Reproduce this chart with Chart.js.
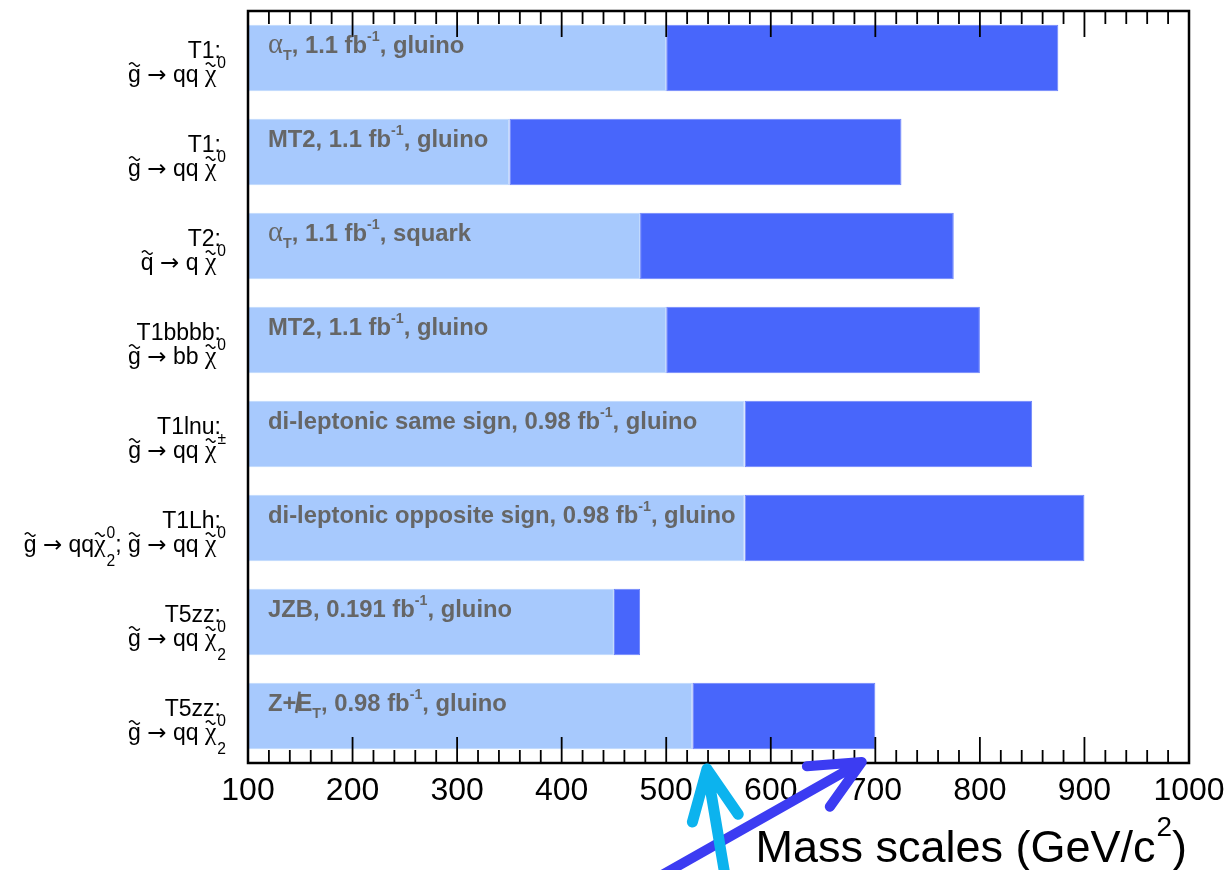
<!DOCTYPE html>
<html>
<head>
<meta charset="utf-8">
<script src="https://cdn.jsdelivr.net/npm/chart.js@4.4.1/dist/chart.umd.min.js"></script>
<style>
  html, body { margin: 0; padding: 0; background: #fff; }
  canvas { display: block; }
</style>
</head>
<body>
<canvas id="c" width="1229" height="870"></canvas>
<script>
// Simplified models, one row each (top to bottom)
const models = ['T1', 'T1', 'T2', 'T1bbbb', 'T1lnu', 'T1Lh', 'T5zz', 'T5zz'];

// Decay chains (mini markup: ~X tilde, ^{..} superscript, _{..} subscript)
const decays = [
  '~g → qq ~χ^{0}',
  '~g → qq ~χ^{0}',
  '~q → q ~χ^{0}',
  '~g → bb ~χ^{0}',
  '~g → qq ~χ^{±}',
  '~g → qq~χ_{2}^{0}; ~g → qq ~χ^{0}',
  '~g → qq ~χ_{2}^{0}',
  '~g → qq ~χ_{2}^{0}'
];

// Analysis, luminosity and particle written on each bar
const analyses = [
  'α_{T}, 1.1 fb^{-1}, gluino',
  'MT2, 1.1 fb^{-1}, gluino',
  'α_{T}, 1.1 fb^{-1}, squark',
  'MT2, 1.1 fb^{-1}, gluino',
  'di-leptonic same sign, 0.98 fb^{-1}, gluino',
  'di-leptonic opposite sign, 0.98 fb^{-1}, gluino',
  'JZB, 0.191 fb^{-1}, gluino',
  'Z+#slash{E}_{T}, 0.98 fb^{-1}, gluino'
];

// Mass reach in GeV/c^2: light segment ends, dark segment ends
const lightEnd = [500, 350, 475, 500, 575, 575, 450, 525];
const darkEnd  = [875, 725, 775, 800, 850, 900, 475, 700];

// Axis
const xTicks = [100, 200, 300, 400, 500, 600, 700, 800, 900, 1000];
const xMinorStep = 20;
const axisTitle = 'Mass scales (GeV/c^{2})';

// Pointer arrows below the axis: tip value on the mass axis
const arrowTips = [687, 539];

const SANS = '"Liberation Sans", Arial, Helvetica, sans-serif';
const SERIF = '"Liberation Serif", "DejaVu Serif", serif';
const SYMB = '"DejaVu Sans", sans-serif';

// ---------- small rich-text renderer ----------
const isGreek = c => /[\u0370-\u03ff]/.test(c);
const isSymbol = c => c === '→';

function parseRich(s) {
  const out = [];
  let i = 0, buf = '';
  const flush = () => { if (buf) { out.push({ t: buf }); buf = ''; } };
  const group = k => { const e = s.indexOf('}', k); return [s.slice(k, e), e + 1]; };
  while (i < s.length) {
    const c = s[i];
    if (c === '~') {
      flush(); out.push({ t: s[i + 1], tilde: true }); i += 2;
    } else if ((c === '^' || c === '_') && s[i + 1] === '{') {
      flush();
      const [g, n] = group(i + 2);
      out.push({ t: g, script: c === '^' ? 'sup' : 'sub' });
      i = n;
    } else if (s.startsWith('#slash{', i)) {
      flush();
      const [g, n] = group(i + 7);
      out.push({ t: g, slash: true });
      i = n;
    } else if (isGreek(c) || isSymbol(c)) {
      flush(); out.push({ t: c }); i++;
    } else {
      buf += c; i++;
    }
  }
  flush();
  return out;
}

function layoutRich(ctx, items, st) {
  let x = 0;
  const parts = [];
  const fontFor = (scale, kind) => {
    const fam = kind === 'greek' ? SERIF : kind === 'symbol' ? SYMB : SANS;
    const w = kind ? 'normal' : st.weight;
    return `${w} ${(st.size * scale).toFixed(2)}px ${fam}`;
  };
  for (let k = 0; k < items.length; k++) {
    const it = items[k];
    if (it.script) {
      const f = fontFor(st.scriptScale, null);
      ctx.font = f;
      const w = ctx.measureText(it.t).width;
      const dy = (it.script === 'sup' ? st.supDy : st.subDy) * st.size;
      parts.push({ t: it.t, font: f, x: x + st.scriptGap, dy });
      const nx = items[k + 1];
      if (it.script === 'sub' && nx && nx.script === 'sup') {
        const w2 = ctx.measureText(nx.t).width;
        parts.push({ t: nx.t, font: f, x: x + st.scriptGap, dy: st.supDy * st.size });
        x += Math.max(w, w2) + st.scriptGap;
        k++;
      } else {
        x += w + st.scriptGap;
      }
      continue;
    }
    const kind = isGreek(it.t) ? 'greek' : isSymbol(it.t) ? 'symbol' : null;
    const scale = kind === 'greek' ? st.greekScale : kind === 'symbol' ? st.symbolScale : 1;
    const f = fontFor(scale, kind);
    ctx.font = f;
    const w = ctx.measureText(it.t).width;
    parts.push({ t: it.t, font: f, x, dy: 0, w, tilde: it.tilde, slash: it.slash });
    x += w;
  }
  return { width: x, parts };
}

function drawRich(ctx, str, x, y, st, align) {
  const lay = layoutRich(ctx, parseRich(str), st);
  const x0 = align === 'right' ? x - lay.width : x;
  ctx.save();
  ctx.fillStyle = st.color;
  ctx.strokeStyle = st.color;
  ctx.textAlign = 'left';
  ctx.textBaseline = 'alphabetic';
  for (const p of lay.parts) {
    ctx.font = p.font;
    const px = x0 + p.x;
    ctx.fillText(p.t, px, y + p.dy);
    if (p.tilde) {
      const tx0 = px + p.w * 0.08, L = p.w * 0.84;
      const ty = y - st.size * 0.76, amp = st.size * 0.075;
      ctx.lineWidth = st.size * 0.065;
      ctx.beginPath();
      for (let s = 0; s <= 20; s++) {
        const t = s / 20;
        const yy = ty - amp * Math.sin(2 * Math.PI * t);
        if (s === 0) ctx.moveTo(tx0 + L * t, yy); else ctx.lineTo(tx0 + L * t, yy);
      }
      ctx.stroke();
    }
    if (p.slash) {
      ctx.lineWidth = st.size * 0.11;
      ctx.beginPath();
      ctx.moveTo(px - p.w * 0.02, y + st.size * 0.08);
      ctx.lineTo(px + p.w * 0.2, y - st.size * 0.82);
      ctx.stroke();
    }
  }
  ctx.restore();
}

const yLabelStyle = { size: 23, weight: 'normal', color: '#000', greekScale: 1.12, symbolScale: 1.0,
  scriptScale: 0.68, supDy: -0.62, subDy: 0.6, scriptGap: 1 };
const barLabelStyle = { size: 23.8, weight: 'bold', color: '#666666', greekScale: 1.2, symbolScale: 1,
  scriptScale: 0.6, supDy: -0.5, subDy: 0.3, scriptGap: 0 };
const titleStyle = { size: 45, weight: 'normal', color: '#000', greekScale: 1, symbolScale: 1,
  scriptScale: 0.62, supDy: -0.58, subDy: 0.3, scriptGap: 1 };

// ---------- frame, inward ticks, annotations ----------
const decorations = {
  id: 'decorations',
  beforeDraw(chart) {
    const { ctx, width, height } = chart;
    ctx.save();
    ctx.fillStyle = '#fff';
    ctx.fillRect(0, 0, width, height);
    ctx.restore();
  },
  afterDatasetsDraw(chart) {
    const { ctx, chartArea: a, scales: { x } } = chart;
    ctx.save();
    ctx.strokeStyle = '#000';
    ctx.lineWidth = 1.8;
    ctx.beginPath();
    for (let v = x.min; v <= x.max; v += xMinorStep) {
      const px = x.getPixelForValue(v);
      const L = xTicks.includes(v) ? 26 : 13;
      ctx.moveTo(px, a.top); ctx.lineTo(px, a.top + L);
      ctx.moveTo(px, a.bottom); ctx.lineTo(px, a.bottom - L);
    }
    ctx.stroke();
    ctx.lineWidth = 2.5;
    ctx.strokeRect(a.left, a.top, a.right - a.left, a.bottom - a.top);
    ctx.restore();

    const meta = chart.getDatasetMeta(0);
    meta.data.forEach((el, i) => {
      const top = el.y - el.height / 2;
      drawRich(ctx, analyses[i], a.left + 20, top + 28.5, barLabelStyle, 'left');
    });
  },
  afterDraw(chart) {
    const { ctx, chartArea: a, scales: { x } } = chart;
    const meta = chart.getDatasetMeta(0);
    meta.data.forEach((el, i) => {
      drawRich(ctx, models[i] + ':', 221, el.y, yLabelStyle, 'right');
      drawRich(ctx, decays[i], 226, el.y + 24, yLabelStyle, 'right');
    });
    drawRich(ctx, axisTitle, a.right - 2, 862, titleStyle, 'right');

    // arrows: [tip value, tip offset below frame, direction to tail (deg), shaft length, width, colour]
    const arrows = [
      [arrowTips[0], -1, 150.5, 240, 10, '#3c3cf2'],
      [arrowTips[1], 6, 80.4, 130, 11, '#0cb3ee']
    ];
    ctx.save();
    ctx.lineCap = 'round';
    ctx.lineJoin = 'round';
    for (const [v, dy, ang, len, lw, col] of arrows) {
      const tx = x.getPixelForValue(v), ty = a.bottom + dy;
      const r = ang * Math.PI / 180, wing = 25 * Math.PI / 180, wl = 55;
      ctx.strokeStyle = col;
      ctx.lineWidth = lw;
      ctx.beginPath();
      ctx.moveTo(tx + len * Math.cos(r), ty + len * Math.sin(r));
      ctx.lineTo(tx, ty);
      ctx.moveTo(tx + wl * Math.cos(r - wing), ty + wl * Math.sin(r - wing));
      ctx.lineTo(tx, ty);
      ctx.lineTo(tx + wl * Math.cos(r + wing), ty + wl * Math.sin(r + wing));
      ctx.stroke();
    }
    ctx.restore();
  }
};

new Chart(document.getElementById('c'), {
  type: 'bar',
  data: {
    labels: models,
    datasets: [
      {
        label: 'inner reach',
        data: lightEnd.map(v => [xTicks[0], v]),
        backgroundColor: '#a7c9fd',
        borderColor: '#bdd7fd',
        borderWidth: 1,
        borderSkipped: false,
        grouped: false,
        barPercentage: 0.71,
        categoryPercentage: 1
      },
      {
        label: 'outer reach',
        data: lightEnd.map((v, i) => [v, darkEnd[i]]),
        backgroundColor: '#4866fb',
        borderColor: '#6c84fb',
        borderWidth: 1,
        borderSkipped: false,
        grouped: false,
        barPercentage: 0.71,
        categoryPercentage: 1
      }
    ]
  },
  options: {
    indexAxis: 'y',
    responsive: false,
    animation: false,
    devicePixelRatio: 1,
    layout: { padding: { top: 11, right: 40, left: 0, bottom: 0 } },
    plugins: { legend: { display: false }, tooltip: { enabled: false } },
    scales: {
      x: {
        type: 'linear',
        position: 'bottom',
        min: xTicks[0],
        max: xTicks[xTicks.length - 1],
        grid: { display: false, drawTicks: false },
        border: { display: false },
        afterBuildTicks: s => { s.ticks = xTicks.map(v => ({ value: v })); },
        afterFit: s => { s.height = 107; s.paddingRight = 0; s.paddingLeft = 0; },
        ticks: {
          color: '#000',
          font: { family: SANS, size: 32 },
          padding: 9,
          maxRotation: 0,
          autoSkip: false,
          callback: v => String(v)
        }
      },
      y: {
        type: 'category',
        grid: { display: false },
        border: { display: false },
        ticks: { display: false },
        afterFit: s => { s.width = 248; }
      }
    }
  },
  plugins: [decorations]
});
</script>
</body>
</html>
